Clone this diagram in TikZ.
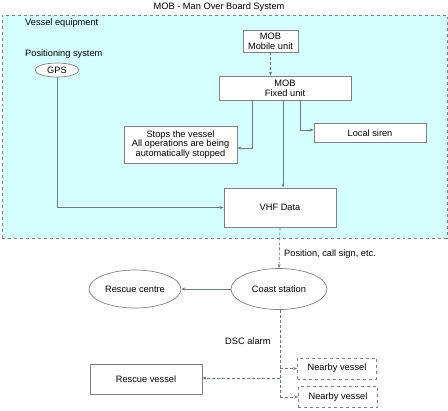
\documentclass[tikz,border=0pt]{standalone}
\usepackage{fontspec}
\setmainfont{Liberation Sans}
\usetikzlibrary{arrows.meta,shapes.geometric}
\definecolor{cyanbg}{HTML}{D5FFFF}
\definecolor{linec}{HTML}{6E7880}
\definecolor{boxc}{HTML}{808080}
\begin{document}
\begin{tikzpicture}[x=1bp,y=-1bp,
  every node/.style={font=\fontsize{9.3}{9.8}\selectfont, text=black},
  box/.style={draw=boxc, fill=white, line width=0.7bp, inner sep=0, align=center},
  dbox/.style={box, dashed},
  oval/.style={draw=boxc, fill=white, line width=0.7bp, ellipse, inner sep=0},
  conn/.style={draw=linec, line width=0.7bp, -{Stealth[length=4bp,width=3bp]}},
  dconn/.style={conn, densely dashed},
  plain/.style={draw=linec, line width=0.7bp},
  dplain/.style={plain, densely dashed},
  lbl/.style={inner sep=0}]
\useasboundingbox (0,0) rectangle (448,410);
\node[lbl] (title) at (219,7) {MOB - Man Over Board System};
\node[draw=boxc, dashed, fill=cyanbg, line width=0.7bp, minimum width=445bp, minimum height=223bp, inner sep=0] (cont) at (224.5,126.5) {};
\node[lbl, anchor=west] (ve) at (25,23) {Vessel equipment};
\node[lbl, anchor=west] (ps) at (25,54) {Positioning system};
\node[oval, minimum width=44bp, minimum height=14bp] (gps) at (57,70) {GPS};
\node[box, minimum width=55bp, minimum height=22bp] (mobile) at (270.5,41) {MOB\\Mobile unit};
\node[box, minimum width=132bp, minimum height=24bp] (fixed) at (285,88) {MOB\\Fixed unit};
\node[box, minimum width=113bp, minimum height=37bp] (stops) at (180.5,144.5) {Stops the vessel\\All operations are being\\automatically stopped};
\node[box, minimum width=112bp, minimum height=19bp] (siren) at (370,133) {Local siren};
\node[box, minimum width=112bp, minimum height=39bp] (vhf) at (280,207.5) {VHF Data};
\node[oval, minimum width=96bp, minimum height=41bp] (coast) at (279,289) {Coast station};
\node[oval, minimum width=92bp, minimum height=38bp] (centre) at (135,289) {Rescue centre};
\node[lbl, anchor=west] (pos) at (284,254) {Position, call sign, etc.};
\node[lbl, anchor=west] (dsc) at (225,341) {DSC alarm};
\node[dbox, minimum width=79bp, minimum height=21bp] (near1) at (337,368.5) {Nearby vessel};
\node[dbox, minimum width=79bp, minimum height=21bp] (near2) at (338,397) {Nearby vessel};
\node[box, minimum width=112bp, minimum height=30bp] (rescue) at (146,379) {Rescue vessel};
\coordinate (j1) at (280,368.5);
\coordinate (j2) at (280,378);
\coordinate (j3) at (280,397);
% connectors
\draw[dconn] (mobile.south) -- (mobile.south |- fixed.north);
\draw[conn] (gps.south) |- (vhf.west);
\draw[conn] ([xshift=-33bp]fixed.south) |- (stops.east |- 0,148);
\draw[conn] ([xshift=-2bp]fixed.south) -- ([xshift=-2bp]fixed.south |- vhf.north);
\draw[conn] ([xshift=15bp]fixed.south) |- (siren.west |- 0,130);
\draw[dconn] (vhf.south) -- (coast.north);
\draw[conn] (coast.west) -- (centre.east);
\draw[dplain] (coast.south -| j3) -- (j3);
\draw[dconn] (j1) -- (near1.west);
\draw[dconn] (j3) -- (near2.west);
\draw[dconn] (j2) -- (rescue.east |- j2);
\end{tikzpicture}
\end{document}
